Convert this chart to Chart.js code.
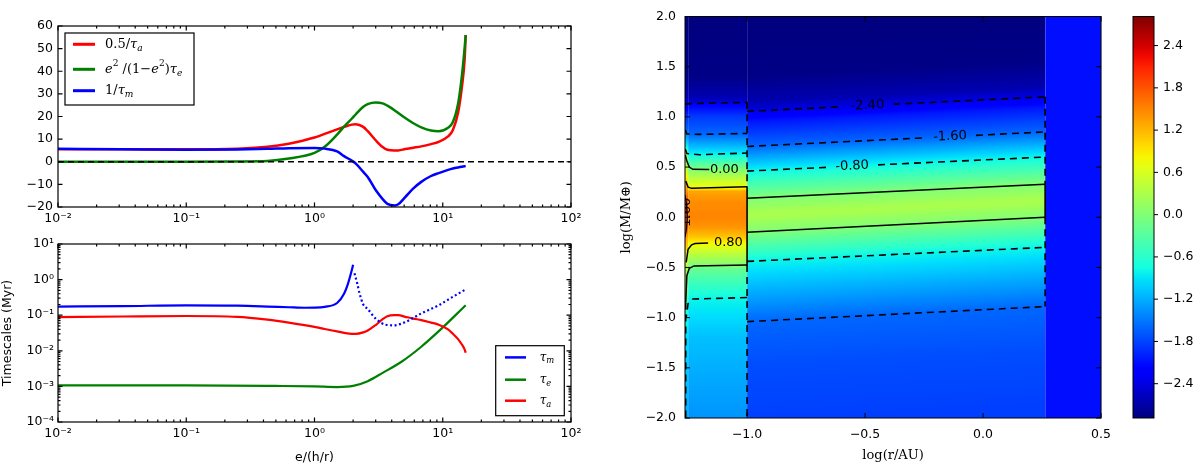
<!DOCTYPE html>
<html lang="en">
<head>
<meta charset="UTF-8">
<title>Migration rates, timescales and torque map</title>
<script src="https://cdn.jsdelivr.net/npm/chart.js"></script>
<style>
  body { margin: 0; background: #fff; }
  .panel { position: absolute; }
  #p1 { left: 0; top: 0; width: 600px; height: 232px; }
  #p2 { left: 0; top: 232px; width: 600px; height: 233px; }
  #p3 { left: 610px; top: 0; width: 510px; height: 465px; }
  #p4 { left: 1120px; top: 0; width: 80px; height: 465px; }
</style>
</head>
<body>
<div class="panel" id="p1"><canvas id="rates"></canvas></div>
<div class="panel" id="p2"><canvas id="times"></canvas></div>
<div class="panel" id="p3"><canvas id="map"></canvas></div>
<div class="panel" id="p4"><canvas id="cbar"></canvas></div>

<script>
// ---- top left: rates (Myr^-1) against e/(h/r) ----
const eGrid = [0.01, 0.032, 0.1, 0.25, 0.43, 0.63, 1.0, 1.2, 1.5, 1.7,
               1.95, 2.1, 2.4, 2.6, 3.0, 3.4, 3.7, 4.2, 4.5, 5.1,
               5.9, 6.8, 8.1, 9.3, 11.0, 12.0, 13.2, 14.1, 14.8, 15.1];
const halfInvTauA = [5.5, 5.5, 5.5, 5.8, 6.6, 8.0, 10.7, 12.3, 14.3, 15.4,
                     16.4, 16.6, 15.4, 13.5, 9.5, 6.5, 5.3, 5.0, 5.0, 5.6,
                     6.2, 6.8, 7.8, 8.8, 11.2, 14.0, 22, 33, 45, 56];
const eccTerm = [0.0, 0.0, 0.05, 0.15, 0.35, 1.4, 3.9, 6.6, 12.0, 15.5,
                 19.0, 21.0, 24.3, 25.5, 26.2, 25.8, 24.8, 22.8, 21.5, 19.3,
                 17.0, 15.2, 13.8, 13.5, 15.0, 17.6, 26, 38, 50, 56];
const invTauM = [5.7, 5.5, 5.3, 5.4, 5.7, 6.0, 6.1, 5.8, 4.6, 2.5,
                 0.5, -0.8, -4.5, -6.7, -12.5, -16.5, -18.6, -19.3, -18.8, -15.6,
                 -11.8, -8.9, -6.3, -5.0, -3.6, -3.0, -2.5, -2.2, -2.0, -1.9];
const rateTicks = [-20, -10, 0, 10, 20, 30, 40, 50, 60];

// ---- bottom left: timescales (Myr) ----
const eTauMpos = [0.01, 0.032, 0.1, 0.25, 0.43, 0.63, 0.85, 1.0, 1.2, 1.5, 1.7, 1.82, 1.95, 2.0];
const tauMpos = [0.175, 0.18, 0.19, 0.185, 0.175, 0.167, 0.162, 0.163, 0.172, 0.22, 0.4, 0.75, 1.8, 2.6];
const eTauMneg = [2.05, 2.15, 2.25, 2.4, 2.6, 3.0, 3.6, 4.2, 5.1, 6.8, 9.3, 12.0, 15.1];
const tauMneg = [1.5, 0.8, 0.4, 0.2, 0.15, 0.08, 0.054, 0.052, 0.064, 0.112, 0.19, 0.33, 0.53];
const tauA = [0.088, 0.092, 0.095, 0.09, 0.075, 0.062, 0.047, 0.041, 0.035, 0.032,
              0.030, 0.030, 0.033, 0.037, 0.053, 0.077, 0.094, 0.1, 0.1, 0.09,
              0.08, 0.073, 0.062, 0.054, 0.04, 0.03, 0.021, 0.015, 0.011, 0.0088];
const eTauE = [0.01, 0.1, 0.5, 1.0, 1.5, 2.0, 2.6, 3.4, 4.8, 6.8, 9.5, 15.1];
const tauE = [0.00107, 0.00107, 0.00103, 0.001, 0.00096, 0.00103, 0.0014, 0.0024, 0.005, 0.013, 0.038, 0.19];

const eDecades = [0.01, 0.1, 1, 10, 100];
const eDecadeLabels = ['10⁻²', '10⁻¹', '10⁰', '10¹', '10²'];
const tDecades = [1e-4, 1e-3, 1e-2, 1e-1, 1, 10];
const tDecadeLabels = ['10⁻⁴', '10⁻³', '10⁻²', '10⁻¹', '10⁰', '10¹'];

// ---- right: torque map over log(r/AU), log(M/Mearth) ----
const cbMin = -2.887, cbMax = 2.813;
const cbTicks = [-2.4, -1.8, -1.2, -0.6, 0.0, 0.6, 1.2, 1.8, 2.4];
const mapTicksX = [-1.0, -0.5, 0.0, 0.5];
const mapTicksY = [-2.0, -1.5, -1.0, -0.5, 0.0, 0.5, 1.0, 1.5, 2.0];
const bandEdges = [-1.263, -1.25, -1.0, 0.263, 0.5];

// vertical profiles (log M, value) for each band
const rimY = [2.0, 1.4, 1.2, 1.13, 1.0, 0.87, 0.70, 0.60, 0.45, 0.32, 0.2, 0.05, -0.1, -0.2, -0.35, -0.5, -0.7, -0.9, -1.2, -2.0];
const rimV = [-2.9, -2.85, -2.6, -2.4, -1.9, -1.6, -0.8, 0.0, 0.6, 1.1, 1.7, 2.0, 1.8, 1.3, 0.9, 0.3, 0.0, -0.6, -0.95, -1.2];
const innerY = [2.0, 1.4, 1.2, 1.14, 1.12, 1.0, 0.826, 0.623, 0.476, 0.40, 0.30, 0.285, 0.26, 0.15, 0.0, -0.1, -0.2, -0.257, -0.38, -0.485, -0.52, -0.81, -1.2, -2.0];
const innerV = [-2.9, -2.85, -2.65, -2.45, -2.2, -1.85, -1.6, -0.8, 0.0, 0.35, 0.75, 0.85, 1.3, 1.45, 1.5, 1.4, 1.1, 0.8, 0.35, 0.0, -0.2, -0.8, -1.1, -1.35];
const diskY = [2.0, 1.4, 1.15, 1.055, 0.95, 0.705, 0.46, 0.19, 0.02, -0.15, -0.44, -1.04, -1.5, -2.0];
const diskV = [-2.9, -2.85, -2.65, -2.4, -2.05, -1.6, -0.8, 0.0, 0.3, 0.0, -0.8, -1.6, -1.75, -1.82];
const diskTilt = 0.145;   // contours rise by this much across the disk band
const outerY = [2.0, -2.0];
const outerV = [-2.1, -2.1];

// contour polylines, null breaks the line for an inline label
const lvlM24 = [
  [[-1.263, 1.13], [-1.0, 1.145]],
  [[-1.0, 1.055], [-0.60, 1.101], null, [-0.38, 1.126], [0.263, 1.20]]
];
const lvlM16 = [
  [[-1.262, 0.87], [-1.255, 0.83], [-1.2, 0.826], [-1.0, 0.835]],
  [[-1.0, 0.705], [-0.25, 0.791], null, [-0.03, 0.816], [0.263, 0.85]],
  [[-1.0, -1.04], [0.263, -0.89]]
];
const lvlM08 = [
  [[-1.262, 0.68], [-1.255, 0.635], [-1.2, 0.623], [-1.0, 0.64]],
  [[-1.0, 0.46], [-0.665, 0.497], null, [-0.445, 0.522], [0.263, 0.60]],
  [[-1.0, -0.44], [0.263, -0.30]],
  [[-1.0, -0.80], [-1.23, -0.815], [-1.25, -0.86], [-1.258, -1.0]]
];
const lvl00 = [
  [[-1.262, 0.62], [-1.255, 0.56], [-1.245, 0.50], [-1.23, 0.478], [-1.16, 0.476]],
  [[-1.0, 0.19], [0.263, 0.33]],
  [[-1.0, -0.15], [0.263, 0.0]],
  [[-1.0, -0.475], [-1.225, -0.485], [-1.245, -0.51], [-1.255, -0.58], [-1.26, -0.85]]
];
const lvl08 = [
  [[-1.26, 0.36], [-1.25, 0.30], [-1.235, 0.288], [-1.0, 0.303]],
  [[-1.258, -0.45], [-1.25, -0.32], [-1.235, -0.275], [-1.22, -0.262], [-1.165, -0.257]]
];
const lvl16 = [
  [[-1.263, 0.22], [-1.257, 0.14], [-1.253, 0.0], [-1.257, -0.12], [-1.263, -0.2]]
];
const wallDashed = [
  [[-1.0, 1.145], [-1.0, 0.303]],
  [[-1.0, -0.475], [-1.0, -2.0]],
  [[0.263, 1.20], [0.263, 0.33]],
  [[0.263, 0.0], [0.263, -0.89]],
  [[-1.26, -0.85], [-1.26, -2.0]]
];
const wallSolid = [
  [[-1.0, 0.303], [-1.0, -0.475]],
  [[0.263, 0.33], [0.263, 0.0]]
];
const cLabelText = ['-2.40', '-1.60', '-0.80', '0.00', '0.80', '1.60'];
const cLabelX = [-0.49, -0.14, -0.555, -1.096, -1.079, -1.256];
const cLabelY = [1.113, 0.804, 0.509, 0.476, -0.257, 0.05];
const cLabelRot = ['tilt', 'tilt', 'tilt', 'flat', 'flat', 'up'];

// ---------------------------------------------------------------
const sans = "'DejaVu Sans', sans-serif";
const serif = "'DejaVu Serif', serif";
const tickFont = { family: sans, size: 12.5 };
const minus = v => v.toFixed(1).replace('-', '\u2212');
const fixedTicks = vals => s => { s.ticks = vals.map(v => ({ value: v })); };
const minorOf = decs => decs.slice(0, -1).flatMap(d => [2, 3, 4, 5, 6, 7, 8, 9].map(k => d * k));

const jetR = [[0, 0], [0.35, 0], [0.66, 1], [0.89, 1], [1, 0.5]];
const jetG = [[0, 0], [0.125, 0], [0.375, 1], [0.64, 1], [0.91, 0], [1, 0]];
const jetB = [[0, 0.5], [0.11, 1], [0.34, 1], [0.65, 0], [1, 0]];
function seg(p, t) {
  for (let i = 1; i < p.length; i++) {
    if (t <= p[i][0]) return p[i - 1][1] + (p[i][1] - p[i - 1][1]) * (t - p[i - 1][0]) / (p[i][0] - p[i - 1][0]);
  }
  return p[p.length - 1][1];
}
function jet(v) {
  const t = Math.min(1, Math.max(0, (v - cbMin) / (cbMax - cbMin)));
  return `rgb(${Math.round(seg(jetR, t) * 255)},${Math.round(seg(jetG, t) * 255)},${Math.round(seg(jetB, t) * 255)})`;
}

function frame(o) {
  return {
    id: 'frame',
    afterDraw(chart) {
      const { ctx, chartArea: a } = chart;
      const sx = chart.scales.x, sy = chart.scales.y;
      const sides = o.sides || ['top', 'bottom', 'left', 'right'];
      const dir = o.out ? -1 : 1;
      ctx.save();
      ctx.strokeStyle = '#000';
      ctx.lineWidth = o.lw;
      ctx.strokeRect(a.left, a.top, a.right - a.left, a.bottom - a.top);
      ctx.beginPath();
      const mark = (vals, len, isX) => vals.forEach(v => {
        if (isX) {
          const p = sx.getPixelForValue(v);
          if (p < a.left - 0.5 || p > a.right + 0.5) return;
          if (sides.includes('bottom')) { ctx.moveTo(p, a.bottom); ctx.lineTo(p, a.bottom - dir * len); }
          if (sides.includes('top')) { ctx.moveTo(p, a.top); ctx.lineTo(p, a.top + dir * len); }
        } else {
          const p = sy.getPixelForValue(v);
          if (p < a.top - 0.5 || p > a.bottom + 0.5) return;
          if (sides.includes('left')) { ctx.moveTo(a.left, p); ctx.lineTo(a.left + dir * len, p); }
          if (sides.includes('right')) { ctx.moveTo(a.right, p); ctx.lineTo(a.right - dir * len, p); }
        }
      });
      mark(o.xMajor || [], o.len, true);
      mark(o.xMinor || [], o.minorLen, true);
      mark(o.yMajor || [], o.len, false);
      mark(o.yMinor || [], o.minorLen, false);
      ctx.stroke();
      ctx.restore();
    }
  };
}

function drawRich(ctx, parts, x, y, size) {
  parts.forEach(([t, k]) => {
    const small = k === 'sub' || k === 'sup';
    const fs = small ? size * 0.7 : size;
    const dy = k === 'sub' ? size * 0.32 : k === 'sup' ? -size * 0.4 : 0;
    const italic = k === 'i' || k === 'sub';
    ctx.font = `${italic ? 'italic ' : ''}${fs}px ${serif}`;
    ctx.fillText(t, x, y + dy);
    x += ctx.measureText(t).width;
  });
}

function legendBox(cfg) {
  return {
    id: 'legendBox',
    afterDraw(chart) {
      const { ctx, chartArea: a } = chart;
      const x0 = cfg.corner === 'tl' ? a.left + cfg.dx : a.right - cfg.dx - cfg.w;
      const y0 = cfg.corner === 'tl' ? a.top + cfg.dy : a.bottom - cfg.dy - cfg.h;
      ctx.save();
      ctx.fillStyle = '#fff';
      ctx.fillRect(x0, y0, cfg.w, cfg.h);
      ctx.strokeStyle = '#000';
      ctx.lineWidth = 1.2;
      ctx.strokeRect(x0, y0, cfg.w, cfg.h);
      cfg.rows.forEach((r, i) => {
        const y = y0 + cfg.rowY[i];
        ctx.strokeStyle = r.color;
        ctx.lineWidth = cfg.lw;
        ctx.beginPath();
        ctx.moveTo(x0 + cfg.lx0, y);
        ctx.lineTo(x0 + cfg.lx1, y);
        ctx.stroke();
        ctx.fillStyle = '#000';
        ctx.textBaseline = 'middle';
        drawRich(ctx, r.parts, x0 + cfg.tx, y, cfg.size);
      });
      ctx.restore();
    }
  };
}

const series = (xs, ys, color, w, dash) => ({
  data: xs.map((x, i) => ({ x, y: ys[i] })),
  borderColor: color, borderWidth: w, borderDash: dash || [],
  pointRadius: 0, fill: false, cubicInterpolationMode: 'monotone'
});

const axisBase = { grid: { display: false, drawTicks: false }, border: { display: false } };

// ---- top left chart ----
new Chart(document.getElementById('rates'), {
  type: 'line',
  data: {
    datasets: [
      { data: [{ x: 0.01, y: 0 }, { x: 100, y: 0 }], borderColor: '#000', borderWidth: 1.6, borderDash: [6, 4], pointRadius: 0 },
      series(eGrid, invTauM, '#0000ff', 2.5),
      series(eGrid, eccTerm, '#008000', 2.5),
      series(eGrid, halfInvTauA, '#ff0000', 2.5)
    ]
  },
  options: {
    animation: false, responsive: true, maintainAspectRatio: false,
    layout: { padding: { left: 0, right: 29, top: 26, bottom: 0 } },
    plugins: { legend: { display: false }, tooltip: { enabled: false } },
    scales: {
      x: {
        ...axisBase, type: 'logarithmic', min: 0.01, max: 100,
        afterBuildTicks: fixedTicks(eDecades),
        afterFit: s => { s.height = 25; },
        ticks: { font: tickFont, color: '#000', padding: 4, autoSkip: false, maxRotation: 0,
                 callback: (v, i) => eDecadeLabels[i] }
      },
      y: {
        ...axisBase, type: 'linear', min: -20, max: 60,
        afterBuildTicks: fixedTicks(rateTicks),
        afterFit: s => { s.width = 58; },
        ticks: { font: tickFont, color: '#000', padding: 5, callback: v => String(v).replace('-', '\u2212') }
      }
    }
  },
  plugins: [
    frame({ lw: 1.2, len: 4.5, minorLen: 2.5, xMajor: eDecades, xMinor: minorOf(eDecades), yMajor: rateTicks }),
    legendBox({
      corner: 'tl', dx: 7, dy: 7, w: 129, h: 72, rowY: [11.3, 36.3, 57.7], lx0: 8, lx1: 30, tx: 40, size: 13, lw: 3,
      rows: [
        { color: '#ff0000', parts: [['0.5/', 'n'], ['τ', 'i'], ['a', 'sub']] },
        { color: '#008000', parts: [['e', 'i'], ['2', 'sup'], [' /(1\u2212', 'n'], ['e', 'i'], ['2', 'sup'], [')', 'n'], ['τ', 'i'], ['e', 'sub']] },
        { color: '#0000ff', parts: [['1/', 'n'], ['τ', 'i'], ['m', 'sub']] }
      ]
    })
  ]
});

// ---- bottom left chart ----
new Chart(document.getElementById('times'), {
  type: 'line',
  data: {
    datasets: [
      series(eTauMpos, tauMpos, '#0000ff', 2.2),
      series(eTauMneg, tauMneg, '#0000ff', 2.2, [2, 2.5]),
      series(eGrid, tauA, '#ff0000', 2.2),
      series(eTauE, tauE, '#008000', 2.2)
    ]
  },
  options: {
    animation: false, responsive: true, maintainAspectRatio: false,
    layout: { padding: { left: 0, right: 29, top: 12, bottom: 0 } },
    plugins: { legend: { display: false }, tooltip: { enabled: false } },
    scales: {
      x: {
        ...axisBase, type: 'logarithmic', min: 0.01, max: 100,
        afterBuildTicks: fixedTicks(eDecades),
        afterFit: s => { s.height = 43; },
        title: { display: true, text: 'e/(h/r)', color: '#000', font: { family: sans, size: 12.5 }, padding: { top: 0, bottom: 0 } },
        ticks: { font: tickFont, color: '#000', padding: 4, autoSkip: false, maxRotation: 0,
                 callback: (v, i) => eDecadeLabels[i] }
      },
      y: {
        ...axisBase, type: 'logarithmic', min: 1e-4, max: 10,
        afterBuildTicks: fixedTicks(tDecades),
        afterFit: s => { s.width = 58; },
        title: { display: true, text: 'Timescales (Myr)', color: '#000', font: { family: sans, size: 12.5 }, padding: { top: 0, bottom: 0 } },
        ticks: { font: tickFont, color: '#000', padding: 4, autoSkip: false, callback: (v, i) => tDecadeLabels[i] }
      }
    }
  },
  plugins: [
    frame({ lw: 1.2, len: 4.5, minorLen: 2.5, xMajor: eDecades, xMinor: minorOf(eDecades), yMajor: tDecades, yMinor: minorOf(tDecades) }),
    legendBox({
      corner: 'br', dx: 6.7, dy: 6.3, w: 68.6, h: 70, rowY: [11.7, 34, 55], lx0: 9.3, lx1: 30.3, tx: 44, size: 12, lw: 2.5,
      rows: [
        { color: '#0000ff', parts: [['τ', 'i'], ['m', 'sub']] },
        { color: '#008000', parts: [['τ', 'i'], ['e', 'sub']] },
        { color: '#ff0000', parts: [['τ', 'i'], ['a', 'sub']] }
      ]
    })
  ]
});

// ---- right: map ----
function bandFill(x0, x1, ys, vs, tilt) {
  return c => {
    const chart = c.chart;
    if (!chart.chartArea) return 'rgba(0,0,0,0)';
    const sx = chart.scales.x, sy = chart.scales.y;
    const top = sy.getPixelForValue(ys[0]);
    const H = sy.getPixelForValue(ys[ys.length - 1]) - top;
    const px0 = sx.getPixelForValue(x0);
    const W = sx.getPixelForValue(x1) - px0;
    const S = sy.getPixelForValue(0) - sy.getPixelForValue(tilt);
    const n = Math.hypot(S, W);
    const L = H * W / n;
    const g = chart.ctx.createLinearGradient(px0, top, px0 + L * S / n, top + L * W / n);
    for (let i = 0; i < ys.length - 1; i++) {
      for (let k = 0; k < 6; k++) {
        const f = k / 6;
        const off = (sy.getPixelForValue(ys[i] + (ys[i + 1] - ys[i]) * f) - top) / H;
        g.addColorStop(Math.min(1, Math.max(0, off)), jet(vs[i] + (vs[i + 1] - vs[i]) * f));
      }
    }
    g.addColorStop(1, jet(vs[vs.length - 1]));
    return g;
  };
}
const band = (x0, x1, ys, vs, tilt) => ({
  data: [{ x: x0, y: 2 }, { x: x1, y: 2 }],
  borderWidth: 0, pointRadius: 0, fill: 'start', tension: 0, order: 10,
  backgroundColor: bandFill(x0, x1, ys, vs, tilt)
});
const toPts = line => {
  let lastX = line[0][0];
  return line.map(p => {
    if (!p) return { x: lastX, y: null };
    lastX = p[0];
    return { x: p[0], y: p[1] };
  });
};
const contourSets = (lines, dashed, w) => lines.map(l => ({
  data: toPts(l), borderColor: '#000', borderWidth: w, borderDash: dashed ? [7, 5] : [],
  pointRadius: 0, fill: false, tension: 0, spanGaps: false, order: 0
}));

const contourLabels = {
  id: 'contourLabels',
  afterDatasetsDraw(chart) {
    const { ctx, chartArea: a } = chart;
    const x = chart.scales.x, y = chart.scales.y;
    const tilt = Math.atan2(y.getPixelForValue(diskTilt) - y.getPixelForValue(0),
                            x.getPixelForValue(bandEdges[3]) - x.getPixelForValue(bandEdges[2]));
    ctx.save();
    ctx.beginPath();
    ctx.rect(a.left, a.top, a.right - a.left, a.bottom - a.top);
    ctx.clip();
    ctx.font = `13px ${sans}`;
    ctx.fillStyle = '#000';
    ctx.textAlign = 'center';
    ctx.textBaseline = 'middle';
    cLabelText.forEach((t, i) => {
      ctx.save();
      ctx.translate(x.getPixelForValue(cLabelX[i]), y.getPixelForValue(cLabelY[i]));
      ctx.rotate(cLabelRot[i] === 'tilt' ? tilt : cLabelRot[i] === 'up' ? -Math.PI / 2 : 0);
      ctx.fillText(t, 0, 0);
      ctx.restore();
    });
    ctx.restore();
  }
};

new Chart(document.getElementById('map'), {
  type: 'line',
  data: {
    datasets: [
      ...contourSets(lvlM24, true, 1.6),
      ...contourSets(lvlM16, true, 1.6),
      ...contourSets(lvlM08, true, 1.6),
      ...contourSets(lvl00, false, 1.5),
      ...contourSets(lvl08, false, 1.5),
      ...contourSets(lvl16, false, 1.2),
      ...contourSets(wallDashed, true, 1.6),
      ...contourSets(wallSolid, false, 1.6),
      band(bandEdges[0], bandEdges[1], rimY, rimV, 0),
      band(bandEdges[1], bandEdges[2], innerY, innerV, 0),
      band(bandEdges[2], bandEdges[3], diskY, diskV, diskTilt),
      band(bandEdges[3], bandEdges[4], outerY, outerV, 0)
    ]
  },
  options: {
    animation: false, responsive: true, maintainAspectRatio: false,
    layout: { padding: { left: 0, right: 13, top: 9, bottom: 0 } },
    plugins: { legend: { display: false }, tooltip: { enabled: false } },
    scales: {
      x: {
        ...axisBase, type: 'linear', min: bandEdges[0], max: bandEdges[4],
        afterBuildTicks: fixedTicks(mapTicksX),
        afterFit: s => { s.height = 47; },
        title: { display: true, text: 'log(r/AU)', color: '#000', font: { family: serif, size: 13 }, padding: { top: 0, bottom: 2 } },
        ticks: { font: tickFont, color: '#000', padding: 9, autoSkip: false, maxRotation: 0, callback: v => minus(v) }
      },
      y: {
        ...axisBase, type: 'linear', min: -2, max: 2,
        afterBuildTicks: fixedTicks(mapTicksY),
        afterFit: s => { s.width = 75; },
        title: { display: true, text: 'log(M/M⊕)', color: '#000', font: { family: serif, size: 13 }, padding: { top: 9, bottom: 0 } },
        ticks: { font: tickFont, color: '#000', padding: 9, autoSkip: false, callback: v => minus(v) }
      }
    }
  },
  plugins: [contourLabels, frame({ lw: 1, len: 5, xMajor: mapTicksX, yMajor: mapTicksY })]
});

// ---- colorbar ----
function cbarFill(c) {
  const chart = c.chart;
  if (!chart.chartArea) return '#000';
  const sy = chart.scales.y;
  const g = chart.ctx.createLinearGradient(0, sy.getPixelForValue(cbMin), 0, sy.getPixelForValue(cbMax));
  for (let i = 0; i <= 40; i++) g.addColorStop(i / 40, jet(cbMin + (cbMax - cbMin) * i / 40));
  return g;
}
new Chart(document.getElementById('cbar'), {
  type: 'bar',
  data: {
    labels: [''],
    datasets: [{ data: [[cbMin, cbMax]], backgroundColor: cbarFill, borderWidth: 0, barPercentage: 1, categoryPercentage: 1 }]
  },
  options: {
    animation: false, responsive: true, maintainAspectRatio: false,
    layout: { padding: { left: 13, right: 0, top: 9, bottom: 47 } },
    plugins: { legend: { display: false }, tooltip: { enabled: false } },
    scales: {
      x: { display: false },
      y: {
        ...axisBase, position: 'right', min: cbMin, max: cbMax,
        afterBuildTicks: fixedTicks(cbTicks),
        afterFit: s => { s.width = 46; },
        ticks: { font: tickFont, color: '#000', padding: 9, autoSkip: false, callback: v => minus(v) }
      }
    }
  },
  plugins: [frame({ lw: 1, len: 4, yMajor: cbTicks, sides: ['right'], out: true })]
});
</script>
</body>
</html>
